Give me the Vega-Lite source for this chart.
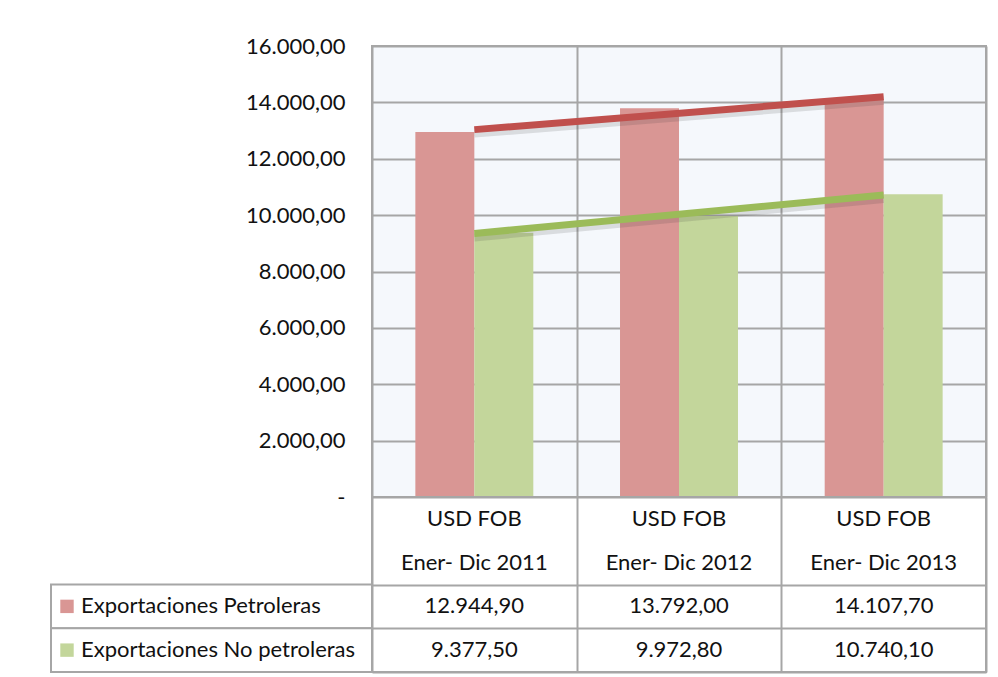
{
  "$schema": "https://vega.github.io/schema/vega-lite/v6.json",
  "background": "white",
  "padding": {"left": 50, "top": 34, "right": 10, "bottom": 5},
  "config": {
    "locale": {"number": {"decimal": ",", "thousands": ".", "grouping": [3], "currency": ["$", ""]}},
    "font": "Lato",
    "view": {"stroke": null}
  },
  "datasets": {
    "export": [
      {"periodo": "Ener- Dic 2011", "idx": 1, "serie": "Exportaciones Petroleras", "valor": 12944.9},
      {"periodo": "Ener- Dic 2012", "idx": 2, "serie": "Exportaciones Petroleras", "valor": 13792.0},
      {"periodo": "Ener- Dic 2013", "idx": 3, "serie": "Exportaciones Petroleras", "valor": 14107.7},
      {"periodo": "Ener- Dic 2011", "idx": 1, "serie": "Exportaciones No petroleras", "valor": 9377.5},
      {"periodo": "Ener- Dic 2012", "idx": 2, "serie": "Exportaciones No petroleras", "valor": 9972.8},
      {"periodo": "Ener- Dic 2013", "idx": 3, "serie": "Exportaciones No petroleras", "valor": 10740.1}
    ],
    "periodos": [
      {"idx": 1, "periodo": "Ener- Dic 2011"},
      {"idx": 2, "periodo": "Ener- Dic 2012"},
      {"idx": 3, "periodo": "Ener- Dic 2013"}
    ],
    "encabezado": [
      {"periodo": "Ener- Dic 2011", "fila": "linea1", "texto": "USD FOB"},
      {"periodo": "Ener- Dic 2012", "fila": "linea1", "texto": "USD FOB"},
      {"periodo": "Ener- Dic 2013", "fila": "linea1", "texto": "USD FOB"},
      {"periodo": "Ener- Dic 2011", "fila": "linea2", "texto": "Ener- Dic 2011"},
      {"periodo": "Ener- Dic 2012", "fila": "linea2", "texto": "Ener- Dic 2012"},
      {"periodo": "Ener- Dic 2013", "fila": "linea2", "texto": "Ener- Dic 2013"}
    ],
    "series": [
      {"serie": "Exportaciones Petroleras"},
      {"serie": "Exportaciones No petroleras"}
    ]
  },
  "columns": 2,
  "spacing": 0,
  "bounds": "flush",
  "concat": [
    {
      "width": 321,
      "height": 451,
      "data": {"values": []},
      "mark": "point"
    },
    {
      "width": 614,
      "height": 451,
      "data": {"name": "export"},
      "view": {"stroke": "#A6A6A6", "strokeWidth": 2, "fill": "#F5F8FC"},
      "encoding": {
        "x": {
          "field": "periodo",
          "type": "nominal",
          "sort": ["Ener- Dic 2011", "Ener- Dic 2012", "Ener- Dic 2013"],
          "scale": {"paddingInner": 0, "paddingOuter": 0},
          "axis": {"labels": false, "ticks": false, "domain": false, "grid": true, "tickBand": "extent", "gridColor": "#A6A6A6", "gridWidth": 2, "title": null}
        }
      },
      "layer": [
        {
          "mark": {"type": "bar"},
          "encoding": {
            "xOffset": {
              "field": "serie",
              "type": "nominal",
              "sort": ["Exportaciones Petroleras", "Exportaciones No petroleras"],
              "scale": {"paddingInner": 0, "paddingOuter": 0.735}
            },
            "y": {
              "field": "valor",
              "type": "quantitative",
              "scale": {"domain": [0, 16000], "nice": false},
              "axis": {
                "values": [0, 2000, 4000, 6000, 8000, 10000, 12000, 14000, 16000],
                "format": ",.2f",
                "labelExpr": "datum.value == 0 ? '-' : datum.label",
                "labelFontSize": 22,
                "labelColor": "#111111",
                "labelPadding": 27,
                "ticks": false,
                "domain": false,
                "grid": true,
                "gridColor": "#A6A6A6",
                "gridWidth": 2,
                "title": null
              }
            },
            "fill": {
              "field": "serie",
              "type": "nominal",
              "scale": {"domain": ["Exportaciones Petroleras", "Exportaciones No petroleras"], "range": ["#D99694", "#C3D69B"]},
              "legend": null
            }
          }
        },
        {
          "transform": [
            {"regression": "valor", "on": "idx", "groupby": ["serie"], "extent": [1, 3]},
            {"lookup": "idx", "from": {"data": {"name": "periodos"}, "key": "idx", "fields": ["periodo"]}}
          ],
          "mark": {"type": "line", "strokeWidth": 8, "yOffset": 4, "opacity": 0.14, "color": "#303030"},
          "encoding": {
            "y": {"field": "valor", "type": "quantitative"},
            "detail": {"field": "serie", "type": "nominal"}
          }
        },
        {
          "transform": [
            {"regression": "valor", "on": "idx", "groupby": ["serie"], "extent": [1, 3]},
            {"lookup": "idx", "from": {"data": {"name": "periodos"}, "key": "idx", "fields": ["periodo"]}}
          ],
          "mark": {"type": "line", "strokeWidth": 7},
          "encoding": {
            "y": {"field": "valor", "type": "quantitative"},
            "stroke": {
              "field": "serie",
              "type": "nominal",
              "scale": {"domain": ["Exportaciones Petroleras", "Exportaciones No petroleras"], "range": ["#C0504D", "#9BBB59"]},
              "legend": null
            }
          }
        }
      ]
    },
    {
      "width": 321,
      "height": 175,
      "data": {"name": "series"},
      "encoding": {
        "y": {
          "field": "serie",
          "type": "nominal",
          "scale": {"domain": ["linea1", "linea2", "Exportaciones Petroleras", "Exportaciones No petroleras"], "paddingInner": 0, "paddingOuter": 0},
          "axis": null
        }
      },
      "layer": [
        {
          "mark": {"type": "rect", "fill": "white", "stroke": "#A6A6A6", "strokeWidth": 2},
          "encoding": {
            "x": {"datum": 0, "type": "quantitative", "scale": {"domain": [0, 1]}, "axis": null},
            "x2": {"datum": 1}
          }
        },
        {
          "mark": {"type": "point", "shape": "square", "filled": true, "size": 180, "opacity": 1, "xOffset": 16},
          "encoding": {
            "x": {"datum": 0, "type": "quantitative"},
            "fill": {
              "field": "serie",
              "type": "nominal",
              "scale": {"domain": ["Exportaciones Petroleras", "Exportaciones No petroleras"], "range": ["#D99694", "#C3D69B"]},
              "legend": null
            }
          }
        },
        {
          "mark": {"type": "text", "align": "left", "baseline": "middle", "fontSize": 22, "color": "#111111", "dx": 30},
          "encoding": {
            "x": {"datum": 0, "type": "quantitative"},
            "text": {"field": "serie"}
          }
        }
      ]
    },
    {
      "width": 614,
      "height": 175,
      "view": {"stroke": "#A6A6A6", "strokeWidth": 2},
      "encoding": {
        "x": {
          "field": "periodo",
          "type": "nominal",
          "sort": ["Ener- Dic 2011", "Ener- Dic 2012", "Ener- Dic 2013"],
          "scale": {"paddingInner": 0, "paddingOuter": 0},
          "axis": {"labels": false, "ticks": false, "domain": false, "grid": true, "tickBand": "extent", "gridColor": "#A6A6A6", "gridWidth": 2, "title": null}
        }
      },
      "layer": [
        {
          "data": {"name": "encabezado"},
          "mark": {"type": "text", "fontSize": 22, "color": "#111111", "baseline": "middle"},
          "encoding": {
            "y": {
              "field": "fila",
              "type": "nominal",
              "scale": {"domain": ["linea1", "linea2", "Exportaciones Petroleras", "Exportaciones No petroleras"], "paddingInner": 0, "paddingOuter": 0},
              "axis": {"labels": false, "ticks": false, "domain": false, "grid": true, "tickBand": "extent", "values": ["Exportaciones Petroleras", "Exportaciones No petroleras"], "gridColor": "#A6A6A6", "gridWidth": 2, "title": null}
            },
            "text": {"field": "texto"}
          }
        },
        {
          "data": {"name": "export"},
          "mark": {"type": "text", "fontSize": 22, "color": "#111111", "baseline": "middle"},
          "encoding": {
            "y": {"field": "serie", "type": "nominal"},
            "text": {"field": "valor", "type": "quantitative", "format": ",.2f"}
          }
        }
      ]
    }
  ]
}
